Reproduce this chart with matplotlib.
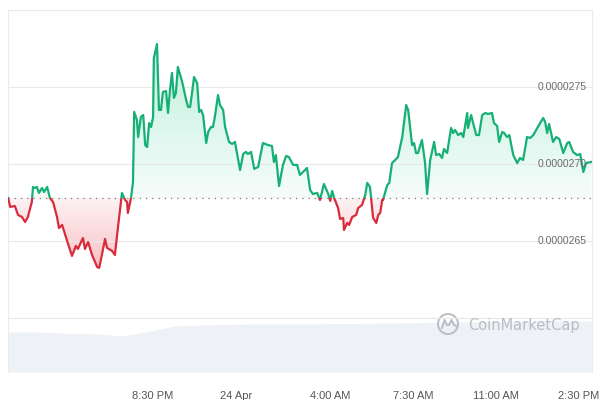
import numpy as np
import matplotlib.pyplot as plt
import matplotlib.colors as mcolors
from matplotlib.patches import Rectangle, Circle
from matplotlib.transforms import IdentityTransform

# time axis: minutes after 2:20 PM on 23 Apr
minutes = [2, 7, 19, 27, 37, 45, 52, 62, 65, 70,
           75, 80, 88, 93, 101, 108, 116, 126, 131, 139,
           151, 164, 174, 179, 192, 197, 205, 215, 228, 233,
           240, 248, 253, 266, 273, 281, 291, 299, 304, 306,
           314, 319, 322, 329, 332, 339, 345, 350, 355, 360,
           365, 370, 372, 380, 385, 390, 395, 403, 408, 413,
           418, 423, 428, 433, 444, 454, 459, 464, 469, 474,
           482, 487, 492, 497, 505, 510, 517, 522, 527, 535,
           540, 548, 553, 563, 571, 578, 591, 599, 606, 611,
           619, 627, 637, 649, 662, 672, 677, 682, 690, 700,
           708, 715, 726, 736, 743, 751, 756, 761, 769, 776,
           787, 794, 804, 815, 820, 825, 830, 840, 845, 853,
           855, 863, 868, 876, 886, 891, 901, 909, 914, 921,
           929, 937, 942, 947, 952, 954, 965, 970, 977, 985,
           992, 1003, 1013, 1018, 1028, 1033, 1038, 1043, 1053, 1061,
           1066, 1074, 1084, 1089, 1097, 1104, 1109, 1117, 1127, 1132,
           1137, 1145, 1153, 1158, 1168, 1170, 1178, 1183, 1191, 1198,
           1206, 1214, 1221, 1231, 1236, 1244, 1249, 1257, 1262, 1269,
           1275, 1285, 1295, 1302, 1310, 1320, 1328, 1336, 1346, 1361,
           1366, 1371, 1376, 1386, 1394, 1402, 1412, 1422, 1427, 1437,
           1447, 1455, 1463, 1470, 1483]

# price in units of 1e-7 USD
price_e7 = [267.79, 267.21, 267.27, 266.69, 266.56, 266.23, 266.56, 267.53, 268.51, 268.44,
            268.51, 268.12, 268.44, 268.18, 268.51, 267.79, 267.53, 266.56, 265.84, 266.04,
            265.06, 264.03, 264.68, 264.48, 265.19, 264.48, 264.93, 264.09, 263.31, 263.25,
            264.09, 265.13, 264.55, 264.35, 264.09, 265.91, 268.12, 267.66, 267.53, 266.82,
            267.79, 268.83, 273.38, 272.86, 271.75, 273.05, 273.18, 271.23, 271.10, 272.66,
            272.40, 273.05, 276.88, 277.79, 273.51, 273.51, 274.68, 274.74, 273.31, 274.81,
            275.91, 274.29, 274.61, 276.30, 275.33, 274.16, 273.70, 273.70, 274.61, 275.65,
            275.26, 273.38, 273.51, 273.18, 271.36, 272.08, 272.40, 272.40, 273.05, 274.48,
            273.83, 273.51, 272.40, 271.43, 271.30, 271.43, 269.61, 270.65, 270.78, 270.65,
            270.78, 269.68, 269.81, 271.36, 271.23, 271.17, 270.13, 270.58, 268.57, 269.94,
            270.52, 270.45, 269.94, 269.94, 269.29, 269.48, 269.61, 269.74, 268.31, 268.05,
            268.12, 267.66, 268.70, 268.05, 267.60, 268.25, 267.79, 267.14, 266.43, 266.49,
            265.71, 266.17, 266.04, 266.56, 266.69, 267.14, 267.34, 267.99, 268.77, 268.51,
            266.49, 266.17, 266.69, 266.82, 267.66, 267.66, 268.64, 268.77, 270.06, 270.26,
            270.45, 271.75, 273.83, 273.51, 271.23, 271.36, 270.71, 270.71, 271.56, 270.06,
            268.05, 270.26, 271.43, 270.58, 270.65, 270.39, 270.97, 270.71, 272.34, 272.01,
            272.21, 271.88, 272.01, 271.75, 273.31, 272.34, 273.18, 272.66, 271.88, 271.88,
            273.18, 273.31, 273.25, 273.31, 272.66, 272.47, 271.43, 272.08, 272.01, 271.75,
            271.88, 270.58, 270.06, 270.39, 270.26, 271.75, 271.69, 271.88, 272.34, 272.99,
            272.73, 272.01, 272.60, 271.43, 271.75, 271.62, 270.71, 271.36, 271.43, 270.78,
            270.58, 270.65, 269.48, 270.06, 270.13]

open_price = 0.00002678

# 24h volume, millions USD
vol_minutes = [2, 83, 134, 235, 286, 324, 362, 388, 426, 489,
               616, 743, 870, 998, 1125, 1252, 1379, 1483]
volumes = [4.0, 4.0, 3.9, 3.8, 3.6, 3.8, 4.1, 4.3, 4.6, 4.7,
           4.8, 4.8, 4.85, 4.9, 5.0, 5.05, 5.1, 5.1]

grid_prices = [0.0000260, 0.0000265, 0.0000270, 0.0000275, 0.0000280]
label_prices = [0.0000265, 0.0000270, 0.0000275]
label_texts = ['0.0000265', '0.0000270', '0.0000275']

xtick_minutes = [370, 580, 820, 1030, 1240, 1450]
xtick_labels = ['8:30 PM', '24 Apr', '4:00 AM', '7:30 AM', '11:00 AM', '2:30 PM']

GREEN = '#16b077'
RED = '#d82c3c'


def gradient_fill(ax, color, a_bottom, a_top, extent, clip_path):
    img = np.zeros((256, 1, 4))
    img[:, :, :3] = mcolors.to_rgb(color)
    img[:, 0, 3] = np.linspace(a_bottom, a_top, 256)
    im = ax.imshow(img, extent=extent, origin='lower', aspect='auto',
                   interpolation='bilinear', zorder=1)
    im.set_clip_path(clip_path, transform=ax.transData)


def PlotChart() -> None:
    plt.rcParams['font.family'] = ['Liberation Sans', 'DejaVu Sans']
    t = np.array(minutes, dtype=float)
    p = np.array(price_e7) * 1e-7
    xmin, xmax = 1.5, 1485
    ymin, ymax = 0.000025649, 0.0000280

    fig = plt.figure(figsize=(6, 4), dpi=100)
    rect = [8 / 600, 28 / 400, 584 / 600, 362 / 400]

    # volume area, behind everything
    axv = fig.add_axes(rect)
    axv.fill_between(vol_minutes, volumes, 0, color='#eef1f5', lw=0)
    axv.set_xlim(xmin, xmax)
    axv.set_ylim(0, 36.2)
    axv.axis('off')

    ax = fig.add_axes(rect, zorder=2)
    ax.set_facecolor('none')

    poly = ax.fill_between(t, p, open_price, facecolor='none', lw=0)
    clip = poly.get_paths()[0]
    gradient_fill(ax, '#16c784', 0.04, 0.28, [xmin, xmax, open_price, p.max()], clip)
    gradient_fill(ax, '#ea3943', 0.32, 0.06, [xmin, xmax, p.min(), open_price], clip)

    up = ax.plot(t, p, color=GREEN, lw=1.6, zorder=3, solid_joinstyle='round')[0]
    down = ax.plot(t, p, color=RED, lw=1.6, zorder=3, solid_joinstyle='round')[0]
    up.set_clip_path(Rectangle((xmin, open_price), xmax - xmin, ymax - open_price,
                               transform=ax.transData))
    down.set_clip_path(Rectangle((xmin, ymin), xmax - xmin, open_price - ymin,
                                 transform=ax.transData))

    ax.hlines(open_price, t[0], t[-1], colors='#7a7a7a', lw=0.9,
              linestyles=(0, (1, 4)), zorder=2)

    ax.set_xlim(xmin, xmax)
    ax.set_ylim(ymin, ymax)
    ax.set_yticks(grid_prices)
    ax.grid(axis='y', color='#e9e9e9', lw=0.8)
    ax.tick_params(axis='y', length=0, labelleft=False)
    for yv, s in zip(label_prices, label_texts):
        ax.text(0.991, yv, s, transform=ax.get_yaxis_transform(), ha='right',
                va='center', fontsize=7.5, color='#6b6b6b', zorder=4)

    ax.set_xticks(xtick_minutes, xtick_labels)
    ax.tick_params(axis='x', length=0, pad=13.5, labelsize=8, labelcolor='#555555')

    for side in ['left', 'right', 'top']:
        ax.spines[side].set_color('#ebebeb')
        ax.spines[side].set_linewidth(0.8)
    ax.spines['bottom'].set_visible(False)

    # watermark
    ax.text(0.788, 0.128, 'CoinMarketCap', transform=ax.transAxes, fontsize=10.5,
            family='DejaVu Sans', color='#b9bdc4', ha='left', va='center', zorder=4)
    cx, cy = 448, 400 - 324
    fig.patches.append(Circle((cx, cy), 10, fill=False, ec='#b9bdc4', lw=1.4,
                              transform=IdentityTransform()))
    wx = cx + np.array([-6, -3.5, -1, 1, 3.5, 6, 8])
    wy = cy + np.array([-4, 4, -1, -1, 4, -1, -2])
    fig.lines.append(plt.Line2D(wx, wy, color='#b9bdc4', lw=1.4,
                                transform=IdentityTransform()))

    fig.savefig('out.png', dpi=100)


if __name__ == '__main__':
    PlotChart()
